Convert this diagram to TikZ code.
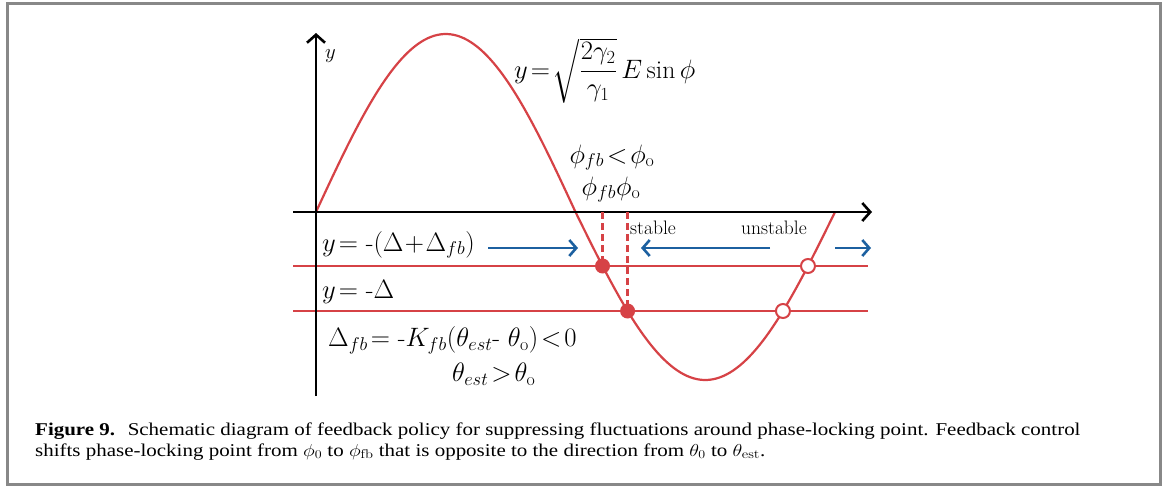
\documentclass[tikz,border=0pt]{standalone}
\usepackage{amsmath}
\usepackage{fontspec}
\newfontfamily\capfont{Liberation Serif}
\usetikzlibrary{arrows.meta,calc}
\definecolor{cred}{RGB}{214,66,70}
\definecolor{cblue}{RGB}{28,96,160}
\definecolor{cframe}{RGB}{136,136,136}
\begin{document}
\pgfmathsetmacro\xa{316+1.441667*(180+asin(54/168))}
\pgfmathsetmacro\xb{316+1.441667*(180+asin(99/168))}
\pgfmathsetmacro\xc{316+1.441667*(360-asin(54/168))}
\pgfmathsetmacro\xd{316+1.441667*(360-asin(99/168))}
\begin{tikzpicture}[x=1pt,y=-1pt,
  axis/.style={line width=2.6pt,-{Straight Barb[length=8pt,width=18pt]}},
  curve/.style={cred,line width=2.2pt},
  level/.style={cred,line width=2.4pt},
  guide/.style={cred,line width=2.2pt,dash pattern=on 7pt off 4pt},
  flow/.style={cblue,line width=2.6pt,-{Straight Barb[length=7pt,width=16pt]}},
  sdot/.style={circle,fill=cred,inner sep=0pt,minimum size=15pt},
  udot/.style={circle,draw=cred,fill=white,line width=2pt,inner sep=0pt,minimum size=14pt},
  lab/.style={font=\fontsize{24}{28}\selectfont,inner sep=0pt,scale=1.07,transform shape},
  word/.style={font=\fontsize{19.5}{23}\selectfont,inner sep=0pt},
  captext/.style={font=\capfont\fontsize{18}{22}\selectfont,inner sep=0pt,anchor=base west}]
\useasboundingbox (0,0) rectangle (1174,488);
\draw[cframe,line width=2.6pt] (7.3,3.3) rectangle (1160.7,484.7);
% levels
\coordinate (l1a) at (293,266); \coordinate (l1b) at (868,266);
\coordinate (l2a) at (293,311); \coordinate (l2b) at (868,311);
\draw[level] (l1a) -- (l1b);
\draw[level] (l2a) -- (l2b);
% curve
\draw[curve] plot[domain=0:180,samples=80] ({316+1.441667*\x},{212-178*sin(\x)})
  -- plot[domain=180:360,samples=80] ({316+1.441667*\x},{212-168*sin(\x)});
% axes
\coordinate (O) at (316,212);
\coordinate (ytop) at (316,33); \coordinate (ybot) at (316,396);
\coordinate (xl) at (293,212); \coordinate (xr) at (872,212);
\draw[axis] (ybot) -- (ytop);
\draw[axis] (xl) -- (xr);
% dots
\node[sdot] (fa) at (\xa,266) {};
\node[sdot] (fb) at (\xb,311) {};
\node[udot] (ua) at (\xc,266) {};
\node[udot] (ub) at (\xd,311) {};
\draw[guide] (fa |- O) -- (fa.center);
\draw[guide] (fb |- O) -- (fb.center);
% flow arrows
\coordinate (a1s) at (488,248); \coordinate (a1e) at (578,248);
\coordinate (a2s) at (770,248); \coordinate (a2e) at (641,248);
\coordinate (a3s) at (835,248); \coordinate (a3e) at (871,248);
\draw[flow] (a1s) -- (a1e);
\draw[flow] (a2s) -- (a2e);
\draw[flow] (a3s) -- (a3e);
% labels
\node[font=\fontsize{20}{24}\selectfont,inner sep=0pt,anchor=base west] (ylab) at (325,58) {$y$};
\node[lab,anchor=base west] (eq) at (514,78) {$y\!=\!\sqrt{\dfrac{2\gamma_2}{\gamma_1}}\,E\sin\phi$};
\node[lab,anchor=base] (cmp) at (612,163) {$\phi_{fb}\!<\!\phi_{\mathrm{o}}$};
\node[lab,anchor=base] (pp) at (611,195) {$\phi_{fb}\phi_{\mathrm{o}}$};
\node[word,anchor=base west] (st) at (630,234) {stable};
\node[word,anchor=base west] (ust) at (741,234) {unstable};
\node[lab,anchor=base west] (ly1) at (322,251) {$y\!=$ -$(\Delta\!+\!\Delta_{fb})$};
\node[lab,anchor=base west] (ly2) at (322,298) {$y\!=$ -$\Delta$};
\node[lab,anchor=base west] (dfb) at (328,346) {$\Delta_{fb}\!=$ -$K_{fb}(\theta_{est}$- $\theta_{\mathrm{o}})\!<\!0$};
\node[lab,anchor=base west] (th) at (452,381) {$\theta_{est}\!>\!\theta_{\mathrm{o}}$};
% caption
\node[captext] (c1) at (35,435) {\scalebox{1.165}[1]{\textbf{Figure 9.}\hspace{0.6em}Schematic diagram of feedback policy for suppressing fluctuations around phase-locking point. Feedback control}};
\node[captext] (c2) at (35,456) {\scalebox{1.165}[1]{shifts phase-locking point from $\phi_0$ to $\phi_{\mathrm{fb}}$ that is opposite to the direction from $\theta_0$ to $\theta_{\mathrm{est}}$.}};
\end{tikzpicture}
\end{document}
